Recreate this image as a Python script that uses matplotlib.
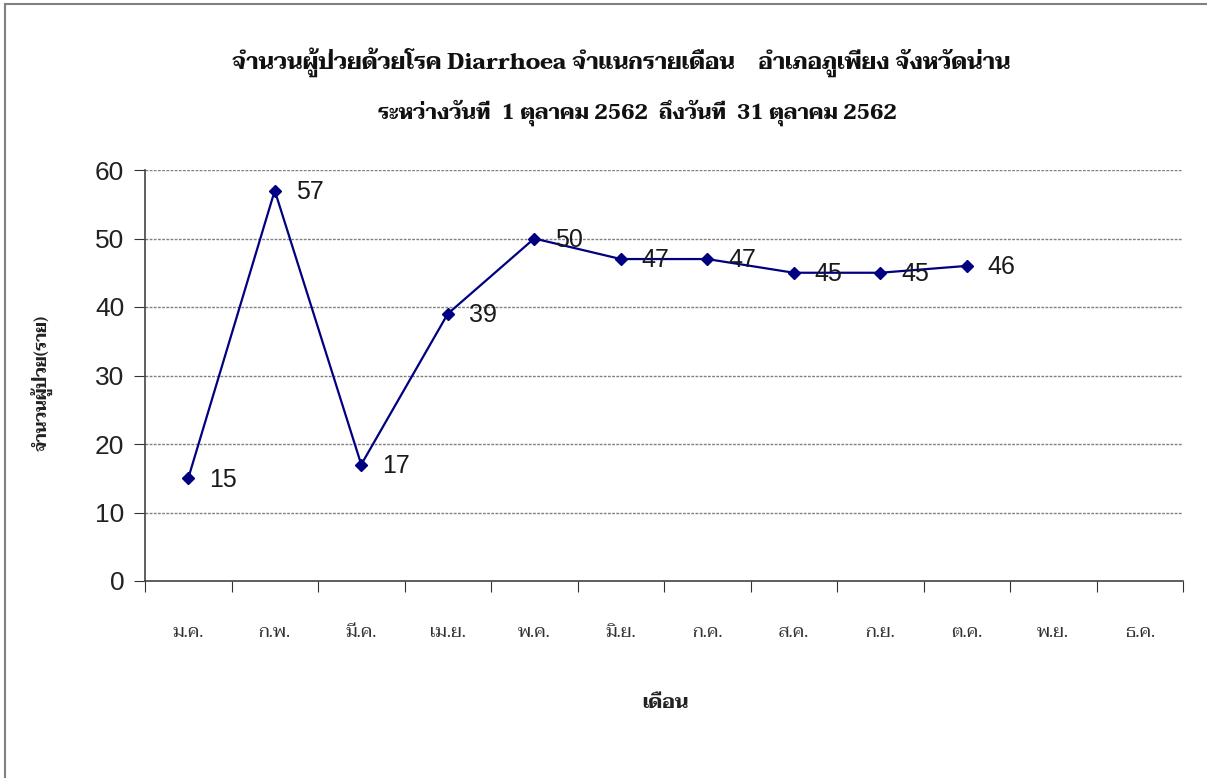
import matplotlib
matplotlib.use("Agg")
import matplotlib.pyplot as plt
from matplotlib.patches import Rectangle
import numpy as np

months = ["ม.ค.", "ก.พ.", "มี.ค.", "เม.ย.", "พ.ค.", "มิ.ย.", "ก.ค.", "ส.ค.", "ก.ย.", "ต.ค.", "พ.ย.", "ธ.ค."]
cases = [15, 57, 17, 39, 50, 47, 47, 45, 45, 46]
yticks = [0, 10, 20, 30, 40, 50, 60]
title1 = "จำนวนผู้ป่วยด้วยโรค Diarrhoea จำแนกรายเดือน    อำเภอภูเพียง จังหวัดน่าน"
title2 = "ระหว่างวันที่  1 ตุลาคม 2562  ถึงวันที่  31 ตุลาคม 2562"
xlabel = "เดือน"
ylabel = "จำนวนผู้ป่วย(ราย)"

THAI = ["Kinnari", "Norasi", "Taviraj", "DejaVu Sans"]
NUM = ["Liberation Sans", "DejaVu Sans"]

fig = plt.figure(figsize=(12.07, 7.78), dpi=100)
fig.patches.append(Rectangle((5 / 1207, -0.01), 1.02, 1 - 4 / 778 + 0.01,
                             transform=fig.transFigure, fill=False,
                             edgecolor="#808080", linewidth=1.5))
ax = fig.add_axes([145 / 1207, 1 - 581 / 778, (1183 - 145) / 1207, (581 - 170) / 778])

x = np.arange(len(cases))
ax.plot(x, cases, color="#000080", linewidth=1.6, marker="D", markersize=6.5,
        markerfacecolor="#000080", markeredgecolor="#000080", zorder=3)
for xi, v in zip(x, cases):
    ax.annotate(str(v), (xi, v), xytext=(15, -1), textcoords="offset points",
                ha="left", va="center", fontsize=18, family=NUM, color="#1a1a1a", zorder=4)

ax.set_xlim(-0.5, len(months) - 0.5)
ax.set_ylim(0, 60)
ax.set_yticks(yticks)
ax.set_yticklabels([str(t) for t in yticks], family=NUM, fontsize=19, color="#222222")
ax.yaxis.grid(True, color="#808080", linestyle=(0, (2, 1)), linewidth=1.0)
ax.set_axisbelow(True)

ax.set_xticks(np.arange(len(months) + 1) - 0.5)
ax.set_xticklabels([])
ax.set_xticks(np.arange(len(months)), minor=True)
ax.set_xticklabels(months, minor=True, family=THAI, fontsize=13, color="#333333")
ax.tick_params(axis="x", which="major", length=8, direction="out", color="#333333")
ax.tick_params(axis="x", which="minor", length=0, pad=31)
ax.tick_params(axis="y", length=8, direction="out", color="#333333", pad=7)

for s in ["top", "right"]:
    ax.spines[s].set_visible(False)
for s in ["left", "bottom"]:
    ax.spines[s].set_color("#444444")
    ax.spines[s].set_linewidth(1.2)

fig.text(0.515, 1 - 62 / 778, title1, ha="center", va="center", family=THAI,
         fontweight="bold", fontsize=16, color="#111111")
fig.text(0.528, 1 - 113 / 778, title2, ha="center", va="center", family=THAI,
         fontweight="bold", fontsize=15, color="#111111")
fig.text(665 / 1207, 1 - 703 / 778, xlabel, ha="center", va="center", family=THAI,
         fontweight="bold", fontsize=14, color="#222222")
fig.text(42 / 1207, 1 - 383 / 778, ylabel, ha="center", va="center", rotation=90,
         family=THAI, fontweight="bold", fontsize=12, color="#222222")

fig.savefig("out.png", dpi=100)
